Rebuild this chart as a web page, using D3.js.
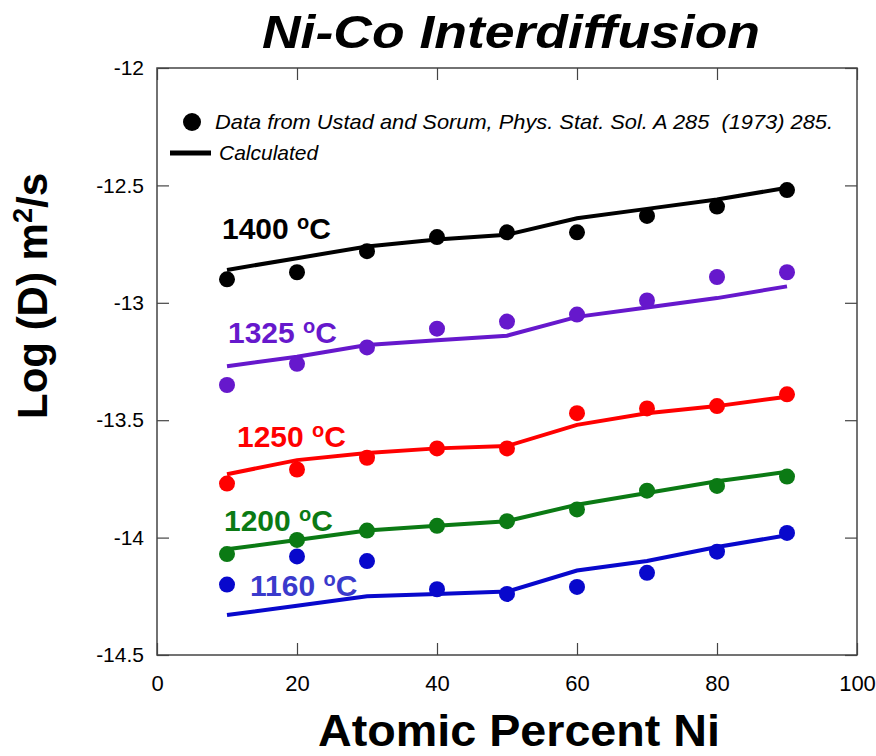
<!DOCTYPE html>
<html>
<head>
<meta charset="utf-8">
<script src="https://cdn.jsdelivr.net/npm/d3@7"></script>
<style>
  body { margin: 0; background: #fff; }
  text { font-family: "Liberation Sans", Arial, sans-serif; }
</style>
</head>
<body>
<div id="chart"></div>
<script>
var svgWidth = 876;
var svgHeight = 756;

var margin = { top: 68, right: 19, bottom: 101, left: 157 };
var width = svgWidth - margin.left - margin.right;
var height = svgHeight - margin.top - margin.bottom;

// atomic percent Ni
var xValues = [10, 20, 30, 40, 50, 60, 70, 80, 90];

// measured log(D), from Ustad and Sorum
var meas1400 = [-12.90, -12.87, -12.78, -12.72, -12.70, -12.70, -12.63, -12.59, -12.52];
var meas1325 = [-13.35, -13.26, -13.19, -13.11, -13.08, -13.05, -12.99, -12.89, -12.87];
var meas1250 = [-13.77, -13.71, -13.66, -13.62, -13.62, -13.47, -13.45, -13.44, -13.39];
var meas1200 = [-14.07, -14.01, -13.97, -13.95, -13.93, -13.88, -13.80, -13.78, -13.74];
var meas1160 = [-14.20, -14.08, -14.10, -14.22, -14.24, -14.21, -14.15, -14.06, -13.98];

// calculated log(D)
var calc1400 = [-12.86, -12.81, -12.76, -12.73, -12.71, -12.64, -12.60, -12.56, -12.51];
var calc1325 = [-13.27, -13.23, -13.18, -13.16, -13.14, -13.06, -13.02, -12.98, -12.93];
var calc1250 = [-13.73, -13.67, -13.64, -13.62, -13.61, -13.52, -13.47, -13.44, -13.40];
var calc1200 = [-14.05, -14.01, -13.97, -13.95, -13.93, -13.86, -13.81, -13.76, -13.72];
var calc1160 = [-14.33, -14.29, -14.25, -14.24, -14.23, -14.14, -14.10, -14.04, -13.99];

var seriesNames = ["1400 \u00baC", "1325 \u00baC", "1250 \u00baC", "1200 \u00baC", "1160 \u00baC"];
var seriesColors = ["#000000", "#6618cc", "#ff0000", "#0b7a14", "#0808cc"];
var labelColors = ["#000000", "#6618cc", "#ff0000", "#0b7a14", "#3a3acc"];

var xTicks = [0, 20, 40, 60, 80, 100];
var yTicks = [-12, -12.5, -13, -13.5, -14, -14.5];

var legendData = "Data from Ustad and Sorum, Phys. Stat. Sol. A 285  (1973) 285.";
var legendCalc = "Calculated";

var measured = [meas1400, meas1325, meas1250, meas1200, meas1160];
var calculated = [calc1400, calc1325, calc1250, calc1200, calc1160];

var svg = d3
  .select("#chart")
  .append("svg")
  .attr("width", svgWidth)
  .attr("height", svgHeight);

var chartGroup = svg
  .append("g")
  .attr("transform", `translate(${margin.left}, ${margin.top})`);

var xScale = d3.scaleLinear().domain([0, 100]).range([0, width]);
var yScale = d3.scaleLinear().domain([-14.5, -12]).range([height, 0]);

// frame
chartGroup
  .append("rect")
  .attr("width", width)
  .attr("height", height)
  .attr("fill", "none")
  .attr("stroke", "#444")
  .attr("stroke-width", 1.5);

// plain hyphen for negatives, like the original
var hyphenFmt = (d) => String(d);

// inward ticks on all four sides
var bottomAxis = d3.axisBottom(xScale).tickValues(xTicks).tickSizeInner(-12).tickSizeOuter(0).tickPadding(20);
var topAxis = d3.axisTop(xScale).tickValues(xTicks).tickSizeInner(-12).tickSizeOuter(0).tickFormat("");
var leftAxis = d3.axisLeft(yScale).tickValues(yTicks).tickSizeInner(-12).tickSizeOuter(0).tickPadding(13).tickFormat(hyphenFmt);
var rightAxis = d3.axisRight(yScale).tickValues(yTicks).tickSizeInner(-12).tickSizeOuter(0).tickFormat("");

var xAxis = chartGroup.append("g").attr("transform", `translate(0, ${height})`).call(bottomAxis);
chartGroup.append("g").call(topAxis);
var yAxis = chartGroup.append("g").call(leftAxis);
chartGroup.append("g").attr("transform", `translate(${width}, 0)`).call(rightAxis);

chartGroup.selectAll(".domain").remove();
chartGroup.selectAll(".tick line").attr("stroke", "#444").attr("stroke-width", 1.2);

xAxis.selectAll("text")
  .attr("font-size", 22)
  .attr("fill", "#000")
  .attr("font-family", "Liberation Sans, Arial, sans-serif");
yAxis.selectAll("text")
  .attr("font-size", 21)
  .attr("fill", "#000")
  .attr("font-family", "Liberation Sans, Arial, sans-serif");

// calculated lines
var line = d3
  .line()
  .x((d, i) => xScale(xValues[i]))
  .y((d) => yScale(d));

chartGroup
  .selectAll(".calc")
  .data(calculated)
  .enter()
  .append("path")
  .attr("class", "calc")
  .attr("d", (d) => line(d))
  .attr("fill", "none")
  .attr("stroke", (d, i) => seriesColors[i])
  .attr("stroke-width", 4);

// measured points
measured.forEach((series, s) => {
  chartGroup
    .append("g")
    .selectAll("circle")
    .data(series)
    .enter()
    .append("circle")
    .attr("cx", (d, i) => xScale(xValues[i]))
    .attr("cy", (d) => yScale(d))
    .attr("r", 8)
    .attr("fill", seriesColors[s]);
});

// temperature labels
var labelPos = [[65, 171], [71, 275], [80, 379], [67, 463], [93, 528]];
seriesNames.forEach((name, i) => {
  var t = chartGroup
    .append("text")
    .attr("x", labelPos[i][0])
    .attr("y", labelPos[i][1])
    .attr("font-size", 30)
    .attr("font-weight", "bold")
    .attr("fill", labelColors[i]);
  var parts = name.split(" ");
  t.append("tspan").text(parts[0] + " ");
  t.append("tspan").attr("font-size", 20).attr("dy", -10).text("o");
  t.append("tspan").attr("dy", 10).text("C");
});

// legend
chartGroup
  .append("circle")
  .attr("cx", 35)
  .attr("cy", 54)
  .attr("r", 9)
  .attr("fill", "#000");
chartGroup
  .append("text")
  .attr("x", 58)
  .attr("y", 61)
  .attr("font-size", 21)
  .attr("font-style", "italic")
  .style("white-space", "pre")
  .attr("textLength", 618)
  .attr("lengthAdjust", "spacingAndGlyphs")
  .text(legendData);
chartGroup
  .append("line")
  .attr("x1", 13)
  .attr("x2", 54)
  .attr("y1", 85)
  .attr("y2", 85)
  .attr("stroke", "#000")
  .attr("stroke-width", 5);
chartGroup
  .append("text")
  .attr("x", 62)
  .attr("y", 92)
  .attr("font-size", 21)
  .attr("font-style", "italic")
  .text(legendCalc);

// titles
svg
  .append("text")
  .attr("x", 511)
  .attr("y", 48)
  .attr("text-anchor", "middle")
  .attr("font-size", 47)
  .attr("font-weight", "bold")
  .attr("font-style", "italic")
  .attr("textLength", 498)
  .attr("lengthAdjust", "spacingAndGlyphs")
  .text("Ni-Co Interdiffusion");

svg
  .append("text")
  .attr("x", 519)
  .attr("y", 746)
  .attr("text-anchor", "middle")
  .attr("font-size", 44)
  .attr("font-weight", "bold")
  .attr("textLength", 402)
  .attr("lengthAdjust", "spacingAndGlyphs")
  .text("Atomic Percent Ni");

var yTitle = svg
  .append("text")
  .attr("transform", "translate(47, 296) rotate(-90)")
  .attr("text-anchor", "middle")
  .attr("font-size", 42)
  .attr("font-weight", "bold");
yTitle.append("tspan").text("Log (D) m");
yTitle.append("tspan").attr("font-size", 27).attr("dy", -15).text("2");
yTitle.append("tspan").attr("dy", 15).text("/s");
</script>
</body>
</html>
